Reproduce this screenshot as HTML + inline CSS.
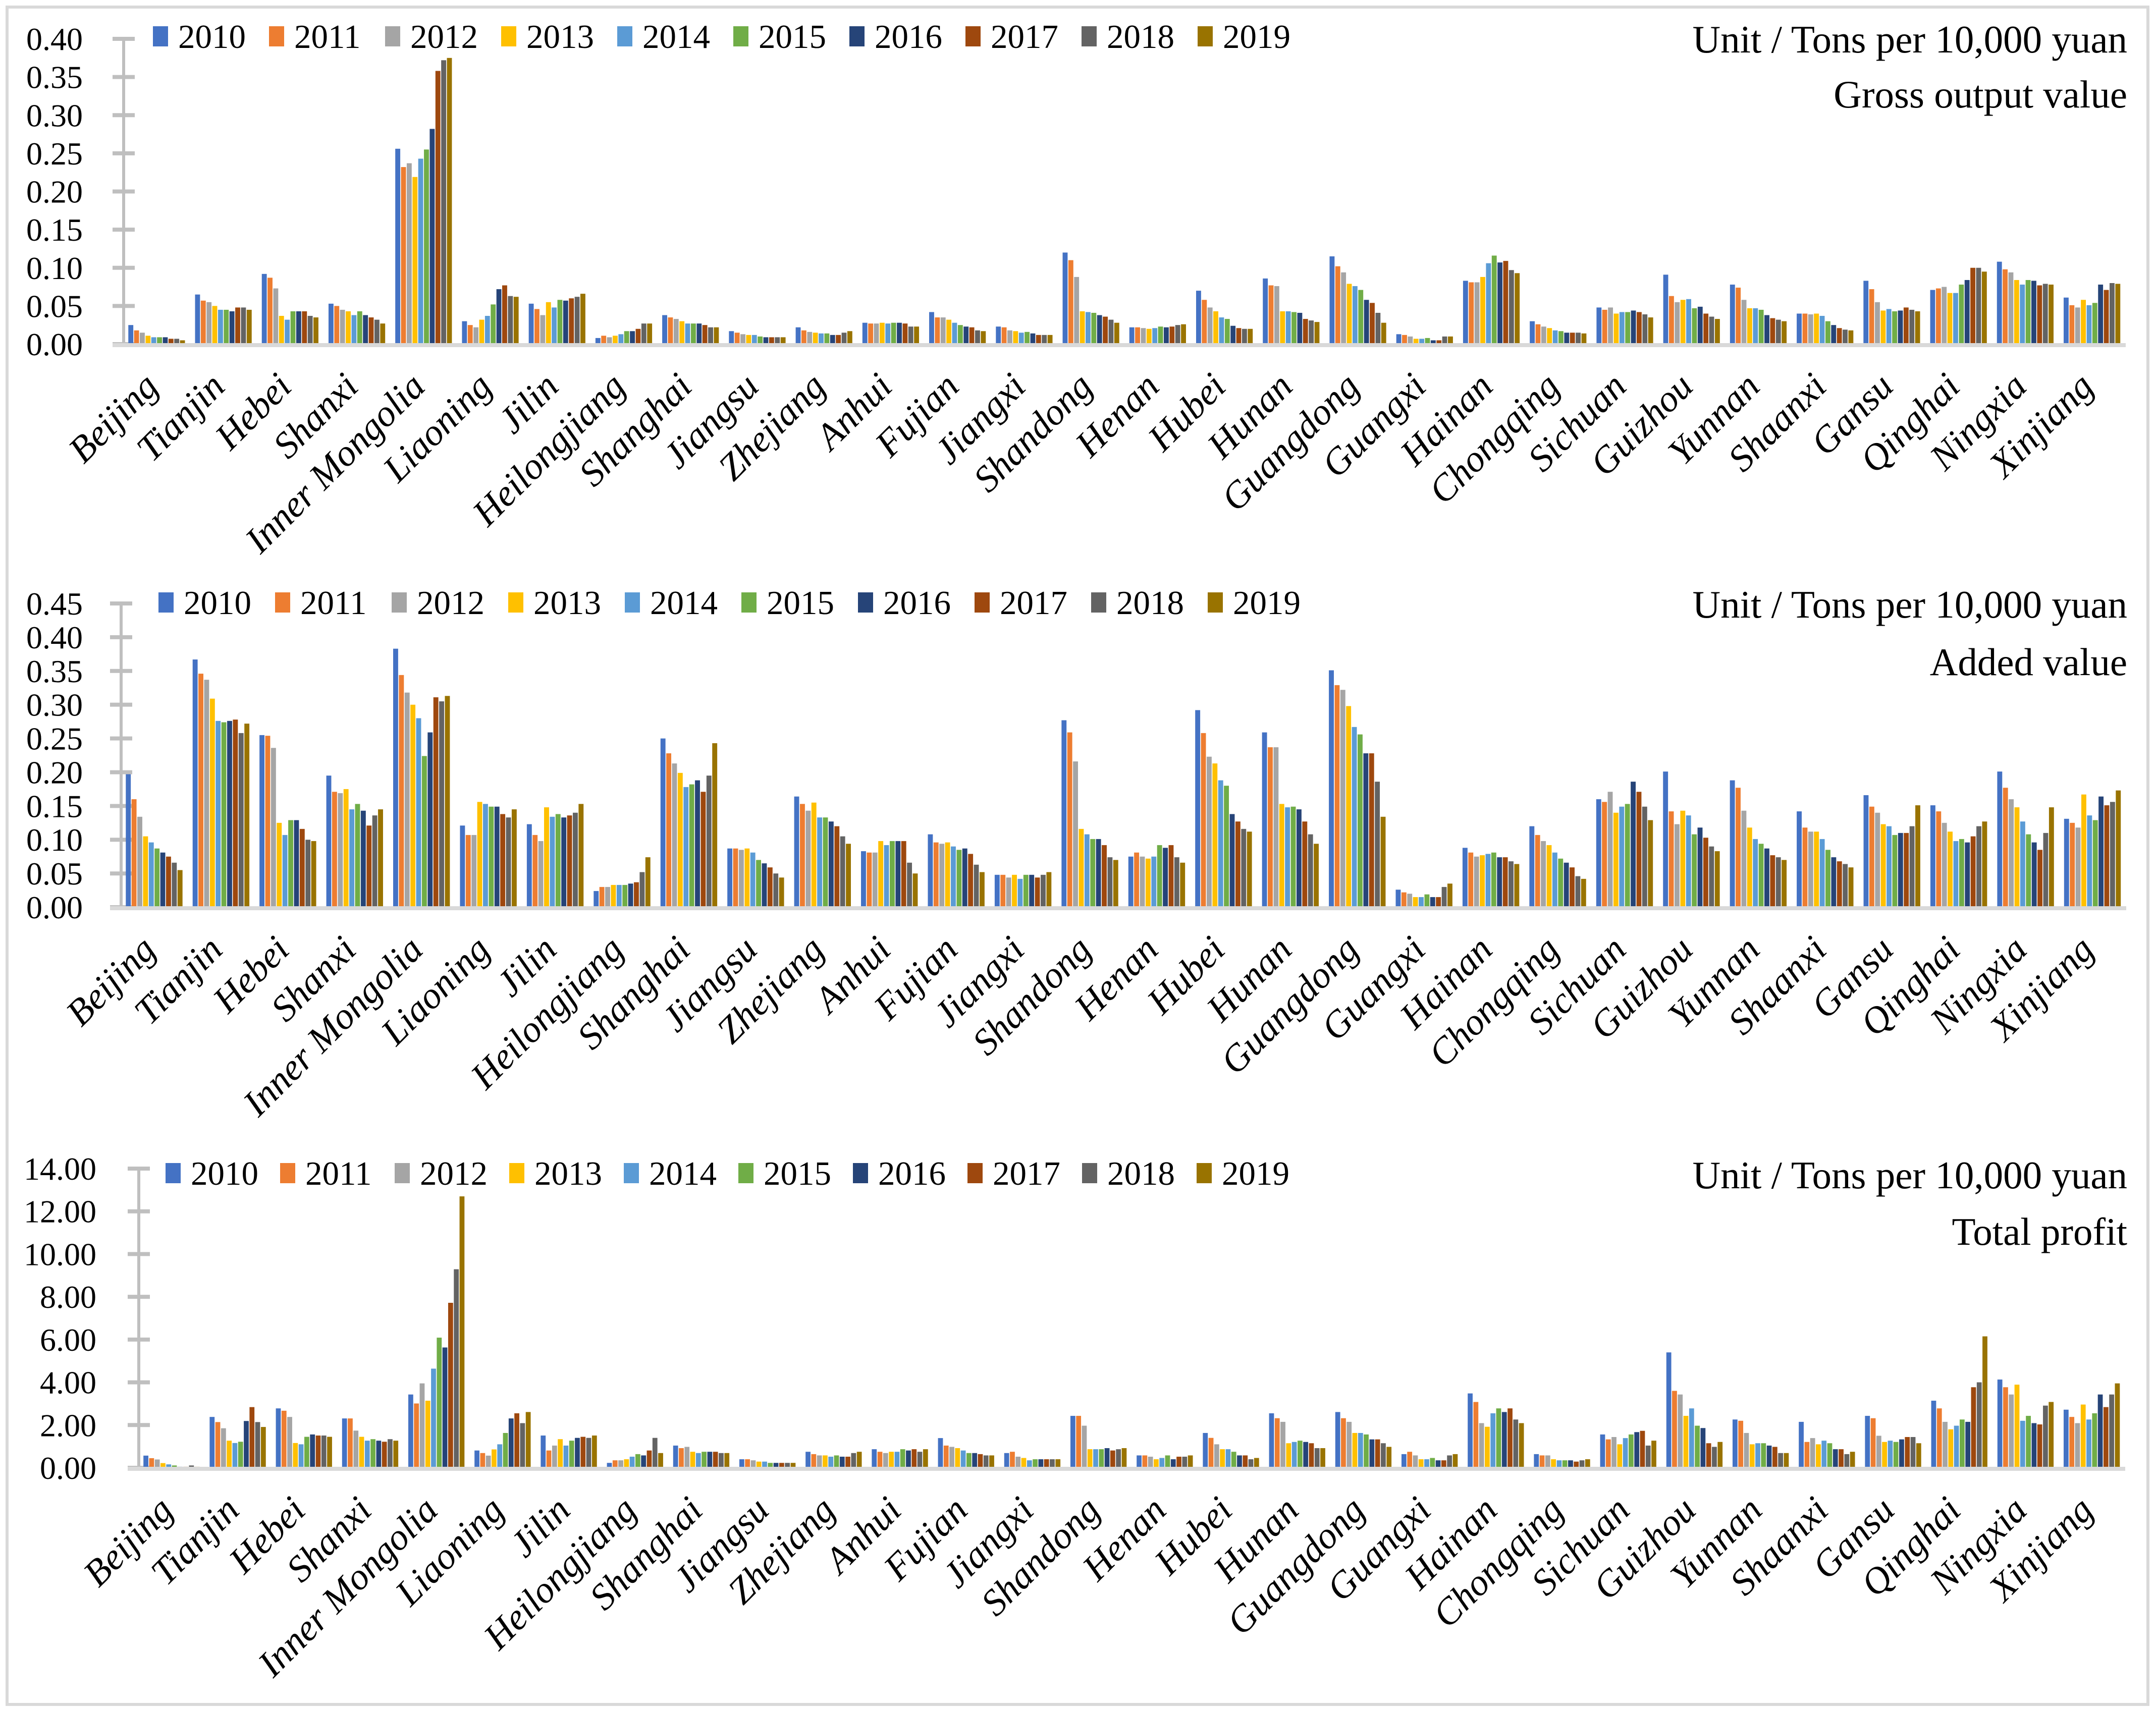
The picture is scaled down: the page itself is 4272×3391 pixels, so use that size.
<!DOCTYPE html>
<html><head><meta charset="utf-8"><style>
html,body{margin:0;padding:0;background:#fff;}
svg{display:block;font-family:"Liberation Serif",serif;}
</style></head><body>
<svg id="root" xmlns="http://www.w3.org/2000/svg" width="4272" height="3391" viewBox="0 0 4272 3391">
<rect x="14" y="14" width="4242" height="3364" fill="#fff" stroke="#d9d9d9" stroke-width="6"/>
</svg>
<script>
const categories=["Beijing","Tianjin","Hebei","Shanxi","Inner Mongolia","Liaoning","Jilin","Heilongjiang","Shanghai","Jiangsu","Zhejiang","Anhui","Fujian","Jiangxi","Shandong","Henan","Hubei","Hunan","Guangdong","Guangxi","Hainan","Chongqing","Sichuan","Guizhou","Yunnan","Shaanxi","Gansu","Qinghai","Ningxia","Xinjiang"];
const years=["2010","2011","2012","2013","2014","2015","2016","2017","2018","2019"];
const colors=["#4472c4","#ed7d31","#a5a5a5","#ffc000","#5b9bd5","#70ad47","#264478","#9e480e","#636363","#997300"];
const grossTicks=["0.00","0.05","0.10","0.15","0.20","0.25","0.30","0.35","0.40"];
const addedTicks=["0.00","0.05","0.10","0.15","0.20","0.25","0.30","0.35","0.40","0.45"];
const profitTicks=["0.00","2.00","4.00","6.00","8.00","10.00","12.00","14.00"];
const grossValues=[
[.025,.018,.015,.011,.009,.009,.009,.007,.007,.005],
[.065,.057,.055,.050,.045,.045,.043,.048,.048,.045],
[.092,.087,.073,.037,.032,.043,.043,.043,.037,.035],
[.053,.050,.045,.043,.038,.043,.038,.035,.032,.027],
[.256,.232,.237,.219,.243,.255,.282,.358,.372,.375],
[.030,.025,.022,.032,.037,.052,.072,.077,.063,.062],
[.053,.046,.038,.055,.048,.058,.057,.060,.062,.066],
[.008,.011,.009,.011,.013,.017,.017,.020,.027,.027],
[.038,.035,.033,.030,.027,.027,.027,.025,.022,.022],
[.017,.015,.013,.012,.012,.010,.009,.009,.009,.009],
[.022,.018,.016,.015,.014,.014,.012,.012,.015,.017],
[.028,.027,.027,.028,.027,.028,.028,.027,.023,.023],
[.042,.035,.035,.032,.028,.025,.023,.022,.018,.017],
[.023,.022,.018,.017,.015,.016,.014,.012,.012,.012],
[.120,.110,.088,.043,.042,.041,.038,.036,.032,.028],
[.022,.022,.021,.020,.021,.023,.022,.023,.025,.026],
[.070,.058,.048,.043,.035,.033,.024,.021,.020,.020],
[.086,.077,.076,.043,.043,.042,.041,.033,.031,.029],
[.115,.102,.094,.079,.076,.071,.058,.054,.041,.028],
[.013,.012,.010,.007,.007,.008,.005,.005,.010,.010],
[.083,.081,.081,.088,.106,.116,.107,.109,.097,.093],
[.030,.026,.023,.021,.018,.017,.015,.015,.015,.014],
[.048,.045,.048,.040,.042,.042,.044,.042,.039,.035],
[.091,.063,.055,.058,.059,.047,.049,.040,.036,.033],
[.078,.074,.058,.047,.047,.045,.038,.034,.032,.030],
[.040,.040,.039,.040,.037,.030,.025,.021,.019,.018],
[.083,.072,.055,.044,.046,.043,.044,.048,.045,.043],
[.071,.073,.075,.067,.067,.078,.084,.100,.100,.095],
[.108,.098,.094,.084,.078,.084,.083,.077,.079,.078],
[.061,.051,.048,.058,.051,.054,.078,.071,.080,.079]];
const addedValues=[
[.197,.160,.134,.105,.096,.087,.081,.075,.066,.055],
[.367,.346,.337,.309,.276,.274,.276,.278,.258,.272],
[.255,.254,.236,.125,.107,.129,.129,.116,.100,.098],
[.195,.171,.169,.175,.145,.153,.143,.121,.136,.145],
[.383,.344,.318,.300,.280,.224,.259,.311,.305,.313],
[.121,.107,.107,.156,.153,.149,.149,.138,.133,.145],
[.123,.107,.098,.148,.134,.138,.133,.136,.140,.153],
[.024,.030,.030,.033,.033,.033,.035,.037,.052,.074],
[.250,.228,.213,.199,.178,.182,.188,.171,.195,.243],
[.087,.087,.085,.087,.081,.070,.065,.059,.050,.044],
[.164,.153,.143,.155,.133,.133,.127,.120,.105,.094],
[.083,.081,.081,.098,.092,.098,.098,.098,.066,.050],
[.108,.096,.094,.096,.090,.085,.087,.079,.063,.052],
[.048,.048,.044,.048,.042,.048,.048,.044,.048,.052],
[.277,.259,.216,.116,.108,.101,.101,.092,.074,.070],
[.075,.081,.075,.072,.075,.092,.088,.092,.074,.066],
[.292,.258,.223,.213,.188,.180,.138,.127,.116,.112],
[.259,.237,.237,.153,.148,.149,.145,.127,.108,.094],
[.351,.329,.322,.298,.267,.256,.228,.228,.186,.134],
[.026,.022,.020,.015,.015,.019,.015,.015,.030,.035],
[.088,.081,.075,.077,.079,.081,.074,.074,.068,.064],
[.120,.107,.098,.092,.081,.072,.066,.059,.046,.042],
[.160,.156,.171,.140,.149,.153,.186,.171,.149,.129],
[.201,.142,.123,.143,.136,.108,.118,.103,.090,.083],
[.188,.177,.143,.118,.101,.094,.087,.077,.074,.070],
[.142,.118,.112,.112,.101,.085,.074,.068,.064,.059],
[.166,.149,.140,.123,.120,.107,.110,.110,.120,.151],
[.151,.142,.125,.112,.098,.101,.096,.105,.120,.127],
[.201,.177,.160,.148,.127,.108,.096,.085,.110,.148],
[.131,.125,.118,.167,.136,.129,.164,.151,.156,.173]];
const profitValues=[
[.57,.45,.39,.22,.16,.11,.05,.05,.11,.05],
[2.38,2.14,1.85,1.27,1.16,1.22,2.19,2.84,2.14,1.91],
[2.78,2.67,2.38,1.16,1.10,1.45,1.56,1.51,1.51,1.45],
[2.31,2.31,1.74,1.45,1.27,1.34,1.27,1.22,1.34,1.27],
[3.43,3.01,3.95,3.14,4.64,6.09,5.63,7.72,9.29,12.70],
[.81,.69,.57,.86,1.10,1.63,2.31,2.55,2.09,2.61],
[1.51,.81,1.04,1.34,1.04,1.27,1.40,1.45,1.40,1.51],
[.23,.35,.35,.40,.52,.64,.58,.81,1.40,.69],
[1.04,.92,.98,.75,.69,.75,.75,.75,.69,.69],
[.40,.40,.35,.29,.29,.23,.23,.23,.23,.23],
[.75,.64,.58,.58,.52,.58,.52,.52,.69,.75],
[.87,.75,.69,.75,.75,.87,.81,.87,.75,.87],
[1.39,1.04,.98,.92,.81,.69,.69,.64,.58,.58],
[.69,.75,.52,.46,.35,.40,.40,.40,.40,.40],
[2.43,2.43,1.97,.87,.87,.87,.92,.81,.87,.92],
[.58,.58,.52,.40,.46,.58,.40,.52,.52,.58],
[1.63,1.40,1.10,.87,.87,.75,.58,.58,.40,.46],
[2.55,2.32,2.15,1.15,1.21,1.27,1.21,1.15,.92,.92],
[2.61,2.32,2.15,1.63,1.63,1.56,1.33,1.33,1.15,.98],
[.64,.75,.58,.40,.40,.46,.35,.35,.58,.64],
[3.48,3.08,2.09,1.92,2.55,2.78,2.61,2.78,2.26,2.09],
[.64,.58,.58,.40,.35,.35,.35,.29,.35,.40],
[1.56,1.33,1.44,1.10,1.39,1.56,1.67,1.73,1.04,1.27],
[5.40,3.60,3.43,2.43,2.78,1.97,1.86,1.15,.98,1.21],
[2.26,2.20,1.63,1.10,1.15,1.15,1.04,.98,.69,.69],
[2.15,1.21,1.39,1.10,1.27,1.15,.87,.87,.64,.75],
[2.43,2.32,1.50,1.21,1.27,1.21,1.33,1.44,1.44,1.15],
[3.14,2.78,2.15,1.80,1.97,2.26,2.15,3.77,4.00,6.15],
[4.13,3.77,3.43,3.89,2.20,2.43,2.09,2.03,2.91,3.08],
[2.72,2.38,2.09,2.96,2.26,2.55,3.43,2.84,3.43,3.95]];

const NS="http://www.w3.org/2000/svg";
const root=document.getElementById('root');
function mk(tag,attrs,parent,text){const e=document.createElementNS(NS,tag);for(const k in attrs)e.setAttribute(k,attrs[k]);if(text!==undefined)e.textContent=text;(parent||root).appendChild(e);return e;}

const panels=[
 {key:"gross",title:"Gross output value",values:grossValues,ticks:grossTicks,max:0.40,ax:245,xe:4212,y0:682,yt:77,labR:164,legX:303,legY:72,legDx:230,unitY:104,subY:213},
 {key:"added",title:"Added value",values:addedValues,ticks:addedTicks,max:0.45,ax:240,xe:4213,y0:1798,yt:1196,labR:164,legX:314,legY:1194,legDx:231,unitY:1224,subY:1338},
 {key:"profit",title:"Total profit",values:profitValues,ticks:profitTicks,max:14,ax:275,xe:4211,y0:2909,yt:2316,labR:191,legX:328,legY:2325,legDx:227,unitY:2355,subY:2467}
];

panels.forEach(p=>{
 const g=mk('g',{});
 
 
 const yScale=v=>p.y0-(v/p.max)*(p.y0-p.yt);
 const cw=(p.xe-p.ax)/categories.length;
 const bw=cw*0.086;
 const yl=mk('line',{x1:p.ax,y1:p.yt,x2:p.ax,y2:p.y0,stroke:'#bfbfbf','stroke-width':6},g);
 
 
 p.ticks.forEach(t=>{
  const y=yScale(parseFloat(t));
  const tk=mk('line',{x1:p.ax-22,y1:y,x2:p.ax+22,y2:y,stroke:'#bfbfbf','stroke-width':8},g);
  
  
  const tl=mk('text',{x:p.labR,y:y+22,'font-size':64,'text-anchor':'end',fill:'#000'},g,t);
  
  
 });
 p.values.forEach((row,ci)=>{
  const gx=p.ax+ci*cw+(cw-bw*10)/2;
  row.forEach((v,si)=>{
   const y=yScale(v);
   const r=mk('rect',{x:gx+si*bw,y:y,width:bw-1.5,height:p.y0-y,fill:colors[si]},g);
   
   
  });
  const cx=p.ax+(ci+0.5)*cw;
  const lx=cx+6, ly=p.y0+88;
  const lab=mk('text',{x:lx,y:ly,'font-size':74,'font-style':'italic','text-anchor':'end',transform:'rotate(-45 '+lx+' '+ly+')',fill:'#000'},g,categories[ci]);
  
  
 });
 const xl=mk('line',{x1:p.ax-22,y1:p.y0+2,x2:p.xe,y2:p.y0+2,stroke:'#d9d9d9','stroke-width':8},g);
 
 
 years.forEach((yr,i)=>{
  const lg=mk('g',{},g);
  
  
  const x=p.legX+i*p.legDx;
  mk('rect',{x:x,y:p.legY-20,width:30,height:40,fill:colors[i]},lg);
  mk('text',{x:x+50,y:p.legY+23,'font-size':67,fill:'#000'},lg,yr);
 });
 const u=mk('text',{x:4215,y:p.unitY,'font-size':77,'text-anchor':'end',fill:'#000'},g,'Unit / Tons per 10,000 yuan');
 
 
 const st=mk('text',{x:4215,y:p.subY,'font-size':77,'text-anchor':'end',fill:'#000'},g,p.title);
 
 
});
</script>
</body></html>
